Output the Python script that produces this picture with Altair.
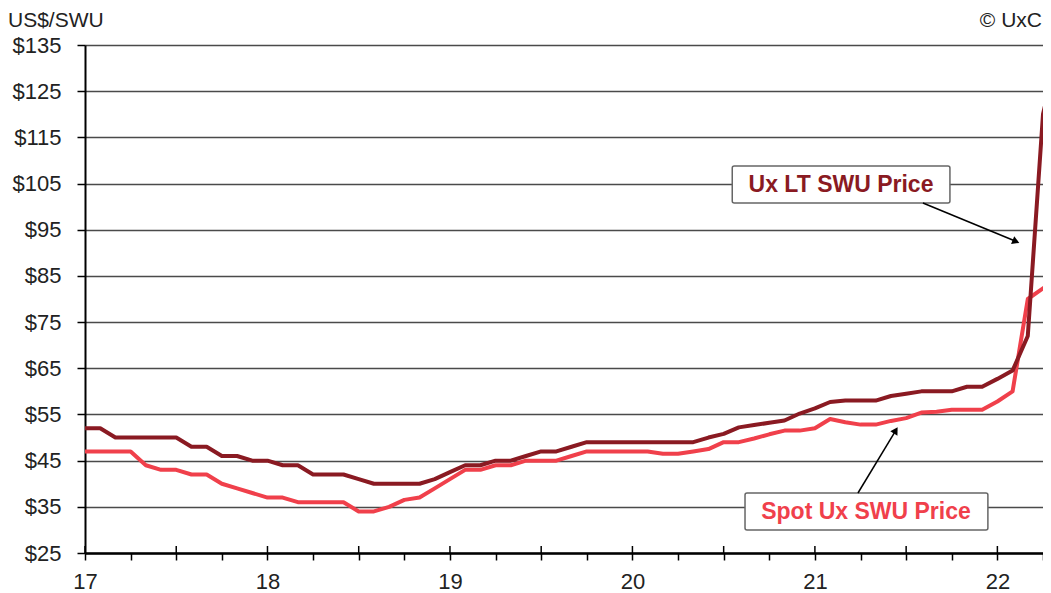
import altair as alt
import pandas as pd

# Monthly observations, Jan 2017 (17.0) through May 2022
month_index = list(range(65))
lt_price = [52, 52, 50, 50, 50, 50, 50, 48, 48, 46, 46, 45,
            45, 44, 44, 42, 42, 42, 41, 40, 40, 40, 40, 41,
            42.5, 44, 44, 45, 45, 46, 47, 47, 48, 49, 49, 49,
            49, 49, 49, 49, 49, 50, 50.8, 52.2, 52.7, 53.2, 53.7, 55.2,
            56.3, 57.7, 58, 58, 58, 59, 59.5, 60, 60, 60, 61, 61,
            62.7, 64.5, 72, 120, 134]
spot_price = [47, 47, 47, 47, 44, 43, 43, 42, 42, 40, 39, 38,
              37, 37, 36, 36, 36, 36, 34, 34, 35, 36.5, 37, 39,
              41, 43, 43, 44, 44, 45, 45, 45, 46, 47, 47, 47,
              47, 47, 46.5, 46.5, 47, 47.5, 49, 49, 49.8, 50.7, 51.5, 51.5,
              52, 54, 53.3, 52.8, 52.8, 53.6, 54.2, 55.4, 55.6, 56, 56, 56,
              57.8, 60, 80, 82.3, 84.5]
y_ticks = list(range(25, 136, 10))
x_quarters = [17 + q * 0.25 for q in range(22)]
x_halves = [17 + h * 0.5 for h in range(11)]

years = [17 + m / 12 for m in month_index]
lt_df = pd.DataFrame({"year": years, "price": lt_price})
spot_df = pd.DataFrame({"year": years, "price": spot_price})

FONT = "Liberation Sans"
DARK = "#8a1a22"
BRIGHT = "#f0404b"

x_scale = alt.Scale(domain=[17, 22.25], nice=False, zero=False)
y_scale = alt.Scale(domain=[25, 135], nice=False, zero=False)

x_axis = alt.Axis(values=x_quarters,
                  labelExpr="datum.value % 1 === 0 ? format(datum.value, 'd') : ''",
                  tickSize=7, tickColor="black", tickWidth=1.5,
                  domainColor="black", domainWidth=2.5,
                  labelFont=FONT, labelFontSize=22, labelColor="#222",
                  labelPadding=11, grid=False, title=None, labelFlush=False)
y_axis = alt.Axis(values=y_ticks, labelExpr="'$' + datum.value",
                  tickSize=8, tickColor="black", tickWidth=1.5,
                  domainColor="black", domainWidth=2,
                  grid=True, gridColor="#4a4a4a", gridWidth=1.3,
                  labelFont=FONT, labelFontSize=22, labelColor="#222",
                  labelPadding=16, title=None)


def X(field, **kw):
    return alt.X(field, type="quantitative", scale=x_scale, axis=x_axis, **kw)


def Y(field, **kw):
    return alt.Y(field, type="quantitative", scale=y_scale, axis=y_axis, **kw)


spot_line = alt.Chart(spot_df).mark_line(
    color=BRIGHT, strokeWidth=4, clip=True, strokeJoin="round"
).encode(x=X("year"), y=Y("price"))

lt_line = alt.Chart(lt_df).mark_line(
    color=DARK, strokeWidth=4, clip=True, strokeJoin="round"
).encode(x=X("year"), y=Y("price"))

# upward part of half-year ticks
half_ticks = alt.Chart(pd.DataFrame({"t": x_halves})).mark_rule(
    color="black", strokeWidth=1.5
).encode(x=X("t"), y=alt.value(501), y2=alt.value(508))

# annotation boxes
boxes_df = pd.DataFrame({
    "x1": [20.547, 20.617], "x2": [21.740, 21.948],
    "y1": [108.8, 37.99], "y2": [100.79, 29.98],
})
boxes = alt.Chart(boxes_df).mark_rect(
    fill="white", stroke="#666666", strokeWidth=1.5, cornerRadius=2
).encode(x=X("x1"), x2="x2", y=Y("y1"), y2="y2")

labels_df = pd.DataFrame({
    "x": [21.143, 21.280], "y": [104.75, 33.94],
    "text": ["Ux LT SWU Price", "Spot Ux SWU Price"],
    "col": [DARK, BRIGHT],
})
labels = alt.Chart(labels_df).mark_text(
    font=FONT, fontSize=23, fontWeight="bold", align="center", baseline="middle"
).encode(x=X("x"), y=Y("y"), text="text:N",
         color=alt.Color("col:N", scale=None))

arrows_df = pd.DataFrame({
    "x1": [21.592, 21.236], "y1": [100.79, 37.99],
    "x2": [22.107, 21.446], "y2": [92.4, 51.7],
})
arrow_lines = alt.Chart(arrows_df).mark_rule(color="black", strokeWidth=1.5).encode(
    x=X("x1"), y=Y("y1"), x2="x2", y2="y2")

heads_df = pd.DataFrame({
    "x": [22.102, 21.443], "y": [92.45, 51.55], "ang": [112.4, 31.2]
})
heads = alt.Chart(heads_df).mark_point(
    shape="triangle-up", filled=True, color="black", size=70, opacity=1
).encode(x=X("x"), y=Y("y"), angle=alt.Angle("ang:Q", scale=None))

left_text = alt.Chart(pd.DataFrame({"t": ["US$/SWU"], "px": [-77]})).mark_text(
    font=FONT, fontSize=21, align="left", baseline="alphabetic", color="#222"
).encode(text="t:N", x=alt.X("px:Q", scale=None, axis=None), y=alt.value(-18))

right_text = alt.Chart(pd.DataFrame({"t": ["\u00a9 UxC"], "px": [957]})).mark_text(
    font=FONT, fontSize=21, align="right", baseline="alphabetic", color="#222"
).encode(text="t:N", x=alt.X("px:Q", scale=None, axis=None), y=alt.value(-18))

chart = alt.layer(
    spot_line, lt_line, half_ticks, boxes, labels, arrow_lines, heads,
    left_text, right_text
).properties(
    width=958, height=508,
    autosize=alt.AutoSizeParams(type="none"),
    padding={"left": 77, "top": 37, "right": 0, "bottom": 40},
).configure_view(stroke=None).configure(background="white")

chart.save("out.html", embed_options={"renderer": "svg", "actions": False})
